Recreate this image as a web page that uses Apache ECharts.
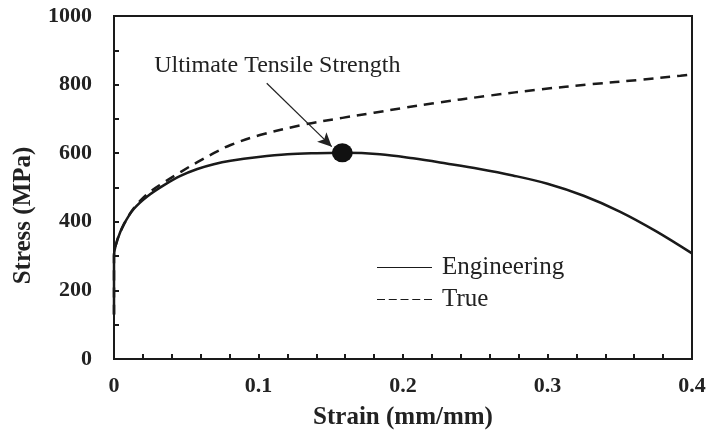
<!DOCTYPE html>
<html>
<head>
<meta charset="utf-8">
<script src="https://cdn.jsdelivr.net/npm/echarts@6/dist/echarts.min.js"></script>
<style>
  html, body { margin: 0; padding: 0; background: #fff; }
  #chart { width: 709px; height: 441px; }
</style>
</head>
<body>
<div id="chart"></div>
<script>
// Engineering stress-strain curve (strain in mm/mm, stress in MPa)
const engStrain = [0, 0, 0.0023, 0.0069, 0.0138, 0.023, 0.0346, 0.046, 0.0577, 0.069, 0.0807, 0.1, 0.12, 0.14, 0.158, 0.184, 0.207, 0.23, 0.253, 0.276, 0.3, 0.325, 0.35, 0.375, 0.4];
const engStress = [130, 300, 347, 393, 438, 474, 507, 534, 554, 568, 578, 589, 597, 600, 601, 597, 585, 570, 554, 535, 511, 476, 430, 373, 308];

// True stress-strain curve
const trueStrain = [0, 0, 0.0023, 0.0069, 0.0138, 0.023, 0.0346, 0.046, 0.0577, 0.069, 0.0807, 0.101, 0.13, 0.158, 0.18, 0.2, 0.22, 0.26, 0.295, 0.33, 0.364, 0.392, 0.4];
const trueStress = [130, 300, 347, 393, 440, 481, 515, 545, 574, 600, 624, 653, 682, 703, 718, 732, 745, 768, 786, 801, 814, 826, 830];

// Ultimate tensile strength point and its callout arrow (data space)
const utsPoint = [0.158, 601];
const utsLabel = 'Ultimate Tensile Strength';
const arrowFrom = [0.1057, 804];
const arrowTo = [0.1507, 619];

const xTicks = [0, 0.1, 0.2, 0.3, 0.4];
const yTicks = [0, 200, 400, 600, 800, 1000];

const ink = '#1a1a1a';
const serif = '"Liberation Serif", "Times New Roman", serif';

const zip = (xs, ys) => xs.map((x, i) => [x, ys[i]]);

// Legend keys: a plain rule and a five-dash rule
const solidKey = 'path://M0,0h55v1h-55z';
const dashKey = 'path://M0,0h8v1h-8z M11.75,0h8v1h-8z M23.5,0h8v1h-8z M35.25,0h8v1h-8z M47,0h8v1h-8z';

const chart = echarts.init(document.getElementById('chart'), null, { renderer: 'canvas' });

chart.setOption({
  animation: false,
  backgroundColor: '#fff',
  grid: {
    left: 114, right: 17, top: 16, bottom: 82,
    show: true, borderColor: ink, borderWidth: 2, backgroundColor: 'transparent'
  },
  xAxis: {
    type: 'value', min: 0, max: 0.4, interval: 0.1,
    name: 'Strain (mm/mm)', nameLocation: 'middle', nameGap: 46,
    nameTextStyle: { fontFamily: serif, fontWeight: 'bold', fontSize: 25, color: '#222' },
    axisLine: { lineStyle: { color: ink, width: 2 } },
    axisTick: { inside: true, length: 5, lineStyle: { color: ink, width: 2 } },
    minorTick: { show: true, splitNumber: 5, length: 5, lineStyle: { color: ink, width: 2 } },
    splitLine: { show: false },
    axisLabel: {
      margin: 16, fontFamily: serif, fontWeight: 'bold', fontSize: 22, color: '#222',
      customValues: xTicks,
      formatter: v => (v === 0 ? '0' : String(+v.toFixed(1)))
    }
  },
  yAxis: {
    type: 'value', min: 0, max: 1000, interval: 200,
    name: 'Stress (MPa)', nameLocation: 'middle', nameGap: 78,
    nameTextStyle: { fontFamily: serif, fontWeight: 'bold', fontSize: 25, color: '#222', padding: [0, 56, 0, 0] },
    axisLine: { lineStyle: { color: ink, width: 2 } },
    axisTick: { inside: true, length: 5, lineStyle: { color: ink, width: 2 } },
    minorTick: { show: true, splitNumber: 2, length: 5, lineStyle: { color: ink, width: 2 } },
    splitLine: { show: false },
    axisLabel: {
      margin: 22, fontFamily: serif, fontWeight: 'bold', fontSize: 22, color: '#222',
      customValues: yTicks,
      formatter: v => String(v)
    }
  },
  legend: {
    orient: 'vertical', left: 372, top: 250,
    itemWidth: 55, itemHeight: 2, itemGap: 7,
    data: [
      { name: 'Engineering', icon: solidKey },
      { name: 'True', icon: dashKey }
    ],
    itemStyle: { color: ink, borderWidth: 0 },
    textStyle: { fontFamily: serif, fontSize: 25, color: '#222', lineHeight: 25, padding: [0, 0, 0, 5] }
  },
  series: [
    {
      name: 'Engineering', type: 'line', data: zip(engStrain, engStress),
      smooth: 0.35, symbol: 'none', z: 3,
      lineStyle: { color: ink, width: 2.5 },
      itemStyle: { color: ink },
      markLine: {
        silent: true, symbol: ['none', 'arrow'], symbolSize: [10, 14],
        lineStyle: { color: '#222', width: 1.2, type: 'solid' },
        label: { show: false },
        data: [[{ coord: arrowFrom }, { coord: arrowTo }]]
      }
    },
    {
      name: 'True', type: 'line', data: zip(trueStrain, trueStress),
      smooth: 0.35, symbol: 'none', z: 2,
      lineStyle: { color: ink, width: 2.5, type: [10, 7] },
      itemStyle: { color: ink }
    },
    {
      name: 'UTS', type: 'scatter', data: [utsPoint],
      symbolSize: [21, 19], z: 4,
      itemStyle: { color: '#111', opacity: 1 },
      label: {
        show: true, formatter: utsLabel, position: 'top', distance: 66, offset: [-65, 0],
        fontFamily: serif, fontSize: 24, color: '#222'
      }
    }
  ]
});
</script>
</body>
</html>
